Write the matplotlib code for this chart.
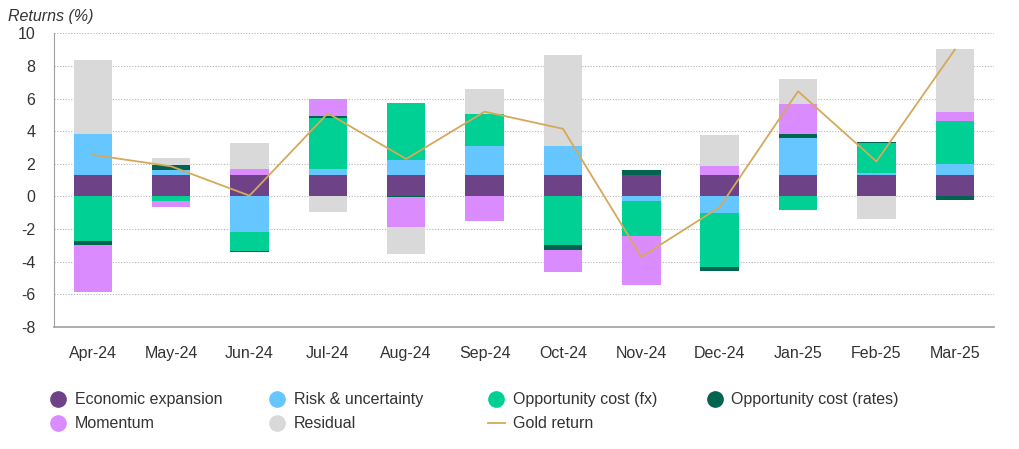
import matplotlib.pyplot as plt
import numpy as np
from matplotlib.lines import Line2D

plt.rcParams['font.family'] = ['Liberation Sans', 'DejaVu Sans']
plt.rcParams['axes.unicode_minus'] = False

months = ['Apr-24', 'May-24', 'Jun-24', 'Jul-24', 'Aug-24', 'Sep-24',
          'Oct-24', 'Nov-24', 'Dec-24', 'Jan-25', 'Feb-25', 'Mar-25']

econ = [1.3, 1.3, 1.3, 1.3, 1.3, 1.3, 1.3, 1.3, 1.3, 1.3, 1.3, 1.3]
risk = [2.55, 0.3, -2.15, 0.4, 0.95, 1.8, 1.8, -0.3, -1.0, 2.3, 0.15, 0.7]
fx = [-2.7, -0.25, -1.2, 3.1, 3.5, 1.95, -3.0, -2.1, -3.3, -0.8, 1.8, 2.65]
rates = [-0.25, 0.35, -0.05, 0.12, -0.05, 0.0, -0.27, 0.3, -0.25, 0.23, 0.12, -0.2]
momentum = [-2.9, -0.4, 0.4, 1.05, -1.85, -1.5, -1.35, -3.0, 0.6, 1.85, 0.0, 0.5]
residual = [4.5, 0.4, 1.6, -0.95, -1.65, 1.55, 5.55, 0.0, 1.85, 1.5, -1.35, 3.9]
gold = [2.55, 1.85, 0.05, 5.1, 2.3, 5.2, 4.15, -3.7, -0.65, 6.45, 2.15, 9.0]

names = ['Economic expansion', 'Risk & uncertainty', 'Opportunity cost (fx)',
         'Opportunity cost (rates)', 'Momentum', 'Residual']
colors = ['#6e4287', '#66c6ff', '#00d093', '#006450', '#da8cff', '#d9d9d9']
series = [econ, risk, fx, rates, momentum, residual]
fs = 11.5

fig = plt.figure(figsize=(10.2, 4.49), dpi=100)
ax = fig.add_axes([0.0525, 0.2717, 0.922, 0.654])

x = np.arange(len(months))
pos_base = np.zeros(len(months))
neg_base = np.zeros(len(months))
for vals, c in zip(series, colors):
    v = np.array(vals)
    base = np.where(v >= 0, pos_base, neg_base)
    ax.bar(x, v, 0.49, bottom=base, color=c, zorder=2, linewidth=0)
    pos_base = pos_base + np.where(v > 0, v, 0)
    neg_base = neg_base + np.where(v < 0, v, 0)

ax.plot(x, gold, color='#d4a959', lw=1.3, zorder=3)

ax.set_xlim(-0.5, 11.5)
ax.set_ylim(-8, 10)
ax.set_yticks(range(-8, 11, 2))
ax.set_xticks(x)
ax.set_xticklabels(months)
ax.tick_params(axis='both', length=0, labelsize=fs, colors='#333333')
ax.tick_params(axis='x', pad=14)
ax.tick_params(axis='y', pad=13)
ax.grid(axis='y', ls=(0, (1, 1.5)), color='#b5b5b5', lw=0.8, zorder=0)
for s in ['top', 'right']:
    ax.spines[s].set_visible(False)
ax.spines['left'].set_color('#a0a0a0')
ax.spines['bottom'].set_color('#a0a0a0')
ax.spines['bottom'].set_linewidth(1.2)

fig.text(0.008, 0.963, 'Returns (%)', style='italic', fontsize=fs,
         color='#333333', va='center')

def dot(c):
    return Line2D([], [], marker='o', ls='none', markersize=11,
                  markerfacecolor=c, markeredgecolor=c)

columns = [
    [(dot(colors[0]), names[0]), (dot(colors[4]), names[4])],
    [(dot(colors[1]), names[1]), (dot(colors[5]), names[5])],
    [(dot(colors[2]), names[2]),
     (Line2D([], [], color='#d4a959', lw=1.3), 'Gold return')],
    [(dot(colors[3]), names[3])],
]
col_x = [0.048, 0.263, 0.478, 0.692]
for cx, col in zip(col_x, columns):
    fig.legend([h for h, _ in col], [t for _, t in col], loc='upper left',
               bbox_to_anchor=(cx, 0.126), frameon=False, fontsize=fs,
               handlelength=1.1, handletextpad=0.5, labelspacing=0.56,
               borderaxespad=0, borderpad=0, labelcolor='#333333')

fig.savefig('out.png', dpi=100)
